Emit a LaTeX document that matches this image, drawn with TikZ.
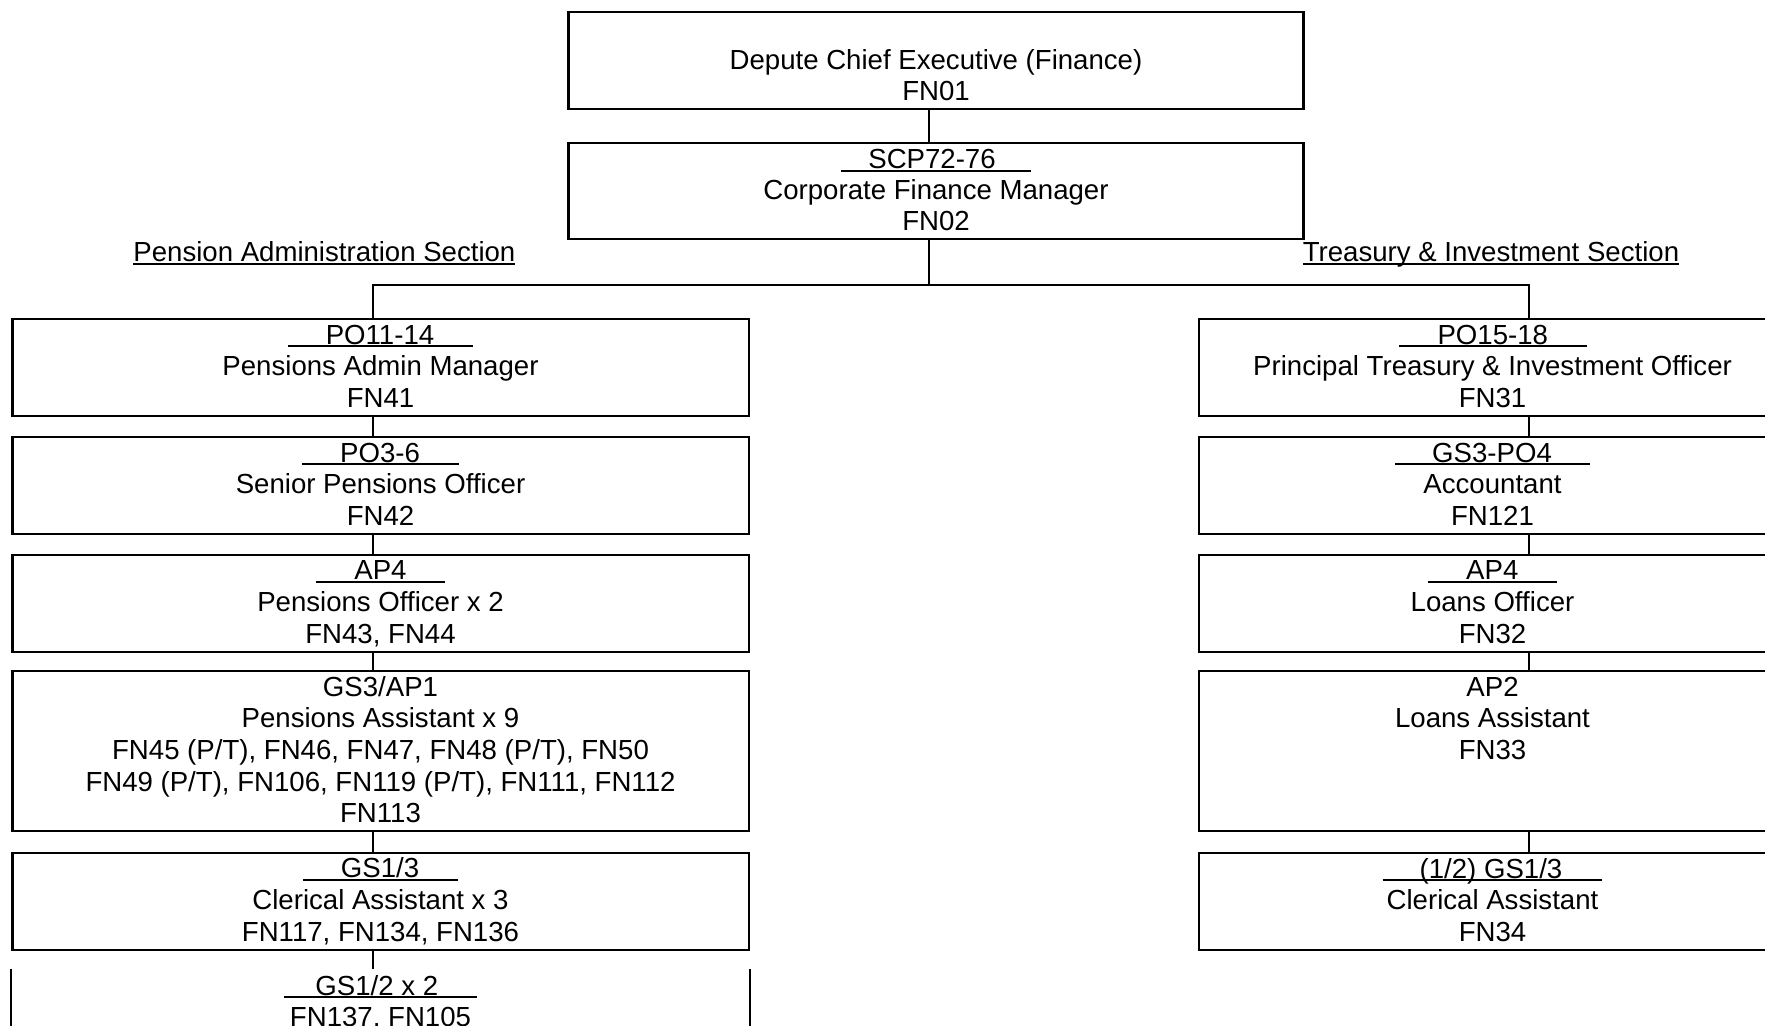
\documentclass[tikz,border=0pt]{standalone}
\usepackage{fontspec}
\setmainfont{Liberation Sans}
\newcommand\orgfont{\fontsize{13.8pt}{15.85pt}\selectfont}
\newcommand\tightorgfont{\fontsize{13.8pt}{15.5pt}\selectfont}
\newcommand\gradeul[3]{\setbox0=\hbox{\hspace*{#1}#2\hspace*{#3}}\rlap{\rule[-1.6pt]{\wd0}{1pt}}\box0}
\newcommand\topstrut{\rule[-4pt]{0pt}{16.2pt}}
\newcommand\botstrut{\rule[-3.9pt]{0pt}{12.9pt}}
\begin{document}
\begin{tikzpicture}[x=0.5pt,y=-0.5pt]
\tikzset{
 orgbox/.style={draw, line width=1.1pt, anchor=north, align=center, inner xsep=0pt, inner ysep=0.3pt, font=\orgfont},
 leftcol/.style={orgbox, minimum width=368.1pt},
 rightcol/.style={orgbox, minimum width=293.5pt},
 topcol/.style={orgbox, minimum width=367.5pt},
 link/.style={line width=1.1pt},
 sectlabel/.style={anchor=base west, inner sep=0pt, font=\orgfont}
}
\path[use as bounding box, fill=white] (0,0) rectangle (1765,1026);

% top
\node[topcol] (dce) at (936,11.3) {\topstrut\\\strut Depute Chief Executive (Finance)\\\botstrut FN01};
\node[topcol, font=\tightorgfont] (cfm) at (936,142.3) {\topstrut\gradeul{13.75pt}{SCP72-76}{17.75pt}\\\strut Corporate Finance Manager\\\botstrut FN02};

% section labels
\node[sectlabel] (pasl) at (133,262) {\gradeul{0pt}{Pension Administration Section}{0pt}};
\node[sectlabel] (tisl) at (1302.4,262) {\gradeul{0pt}{Treasury \& Investment Section}{0pt}};

% left column
\node[leftcol] (pam) at (380.5,318) {\topstrut\gradeul{19pt}{PO11-14}{19.5pt}\\\strut Pensions Admin Manager\\\botstrut FN41};
\node[leftcol] (spo) at (380.5,436) {\topstrut\gradeul{19pt}{PO3-6}{19.5pt}\\\strut Senior Pensions Officer\\\botstrut FN42};
\node[leftcol] (po) at (380.5,553.7) {\topstrut\gradeul{19pt}{AP4}{19pt}\\\strut Pensions Officer x 2\\\botstrut FN43, FN44};
\node[leftcol] (pa) at (380.5,670) {\topstrut GS3/AP1\\\strut Pensions Assistant x 9\\\strut FN45 (P/T), FN46, FN47, FN48 (P/T), FN50\\\strut FN49 (P/T), FN106, FN119 (P/T), FN111, FN112\\\botstrut FN113};
\node[leftcol] (ca) at (380.5,851.7) {\topstrut\gradeul{19pt}{GS1/3}{19.5pt}\\\strut Clerical Assistant x 3\\\botstrut FN117, FN134, FN136};
\node[leftcol, draw=none] (gs) at (380.5,969) {\topstrut\gradeul{15.8pt}{GS1/2 x 2}{19.5pt}\\\strut FN137, FN105\\\botstrut};
\draw[link] (gs.north west) -- (gs.south west);
\draw[link] (gs.north east) -- (gs.south east);

% right column
\node[rightcol] (pti) at (1492.5,318) {\topstrut\gradeul{19.5pt}{PO15-18}{19.25pt}\\\strut Principal Treasury \& Investment Officer\\\botstrut FN31};
\node[rightcol] (acc) at (1492.5,436) {\topstrut\gradeul{18.5pt}{GS3-PO4}{19pt}\\\strut Accountant\\\botstrut FN121};
\node[rightcol] (lo) at (1492.5,553.7) {\topstrut\gradeul{19pt}{AP4}{19.25pt}\\\strut Loans Officer\\\botstrut FN32};
\node[rightcol] (la) at (1492.5,670) {\topstrut AP2\\\strut Loans Assistant\\\strut FN33\\\strut\\\botstrut};
\node[rightcol] (cla) at (1492.5,852) {\topstrut\gradeul{18.5pt}{(1/2) GS1/3}{20pt}\\\strut Clerical Assistant\\\botstrut FN34};

% connectors
\coordinate (mbus) at (928.7,285);
\coordinate (lbus) at (372.6,285);
\coordinate (rbus) at (1528.7,285);
\draw[link] (dce.south -| mbus) -- (cfm.north -| mbus);
\draw[link] (cfm.south -| mbus) -- (mbus);
\draw[link] (pam.north -| lbus) -- (lbus) -- (rbus) -- (pti.north -| rbus);
\draw[link] (pam.south -| lbus) -- (spo.north -| lbus);
\draw[link] (spo.south -| lbus) -- (po.north -| lbus);
\draw[link] (po.south -| lbus) -- (pa.north -| lbus);
\draw[link] (pa.south -| lbus) -- (ca.north -| lbus);
\draw[link] (ca.south -| lbus) -- (gs.north -| lbus);
\draw[link] (pti.south -| rbus) -- (acc.north -| rbus);
\draw[link] (acc.south -| rbus) -- (lo.north -| rbus);
\draw[link] (lo.south -| rbus) -- (la.north -| rbus);
\draw[link] (la.south -| rbus) -- (cla.north -| rbus);
\end{tikzpicture}
\end{document}
